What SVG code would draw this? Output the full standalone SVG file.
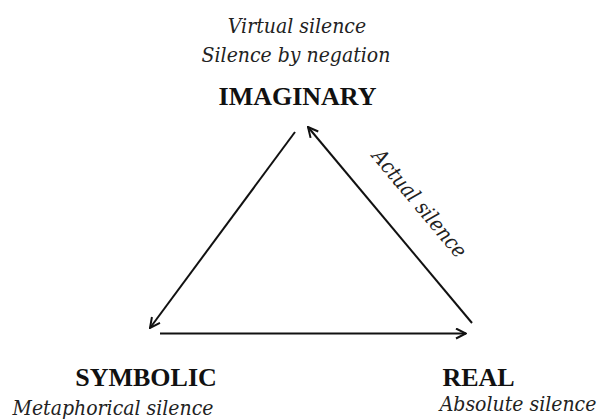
<svg xmlns="http://www.w3.org/2000/svg" width="599" height="419" viewBox="0 0 599 419">
<style>
.b{font-family:"Liberation Serif",serif;font-weight:bold;font-size:26px;fill:#111}
.i{font-family:"DejaVu Serif Condensed","DejaVu Serif",serif;font-style:italic;font-size:21px;fill:#222}
.c{fill:none;stroke:#111;stroke-width:2}
</style>
<defs>
<marker id="ah" viewBox="0 0 12 12" refX="11" refY="6" markerWidth="12" markerHeight="12" markerUnits="userSpaceOnUse" orient="auto">
<path d="M1,1 L11,6 L1,11" fill="none" stroke="#111" stroke-width="2"/>
</marker>
</defs>
<rect width="599" height="419" fill="#fff"/>
<g id="imaginary">
<text class="i" x="297" y="33" text-anchor="middle">Virtual silence</text>
<text class="i" x="296" y="62" text-anchor="middle">Silence by negation</text>
<text class="b" x="297.5" y="105" text-anchor="middle">IMAGINARY</text>
</g>
<g id="symbolic">
<text class="b" x="146" y="386" text-anchor="middle">SYMBOLIC</text>
<text class="i" x="113" y="415" text-anchor="middle">Metaphorical silence</text>
</g>
<g id="real">
<text class="b" x="478.5" y="386" text-anchor="middle">REAL</text>
<text class="i" x="518" y="411" text-anchor="middle">Absolute silence</text>
</g>
<g id="connectors">
<line class="c" x1="295" y1="132" x2="150" y2="328" marker-end="url(#ah)"/>
<line class="c" x1="472" y1="323" x2="308" y2="127" marker-end="url(#ah)"/>
<line class="c" x1="160" y1="333.5" x2="466" y2="333.5" marker-end="url(#ah)"/>
<text class="i" transform="translate(414,208) rotate(50)" text-anchor="middle">Actual silence</text>
</g>
</svg>
